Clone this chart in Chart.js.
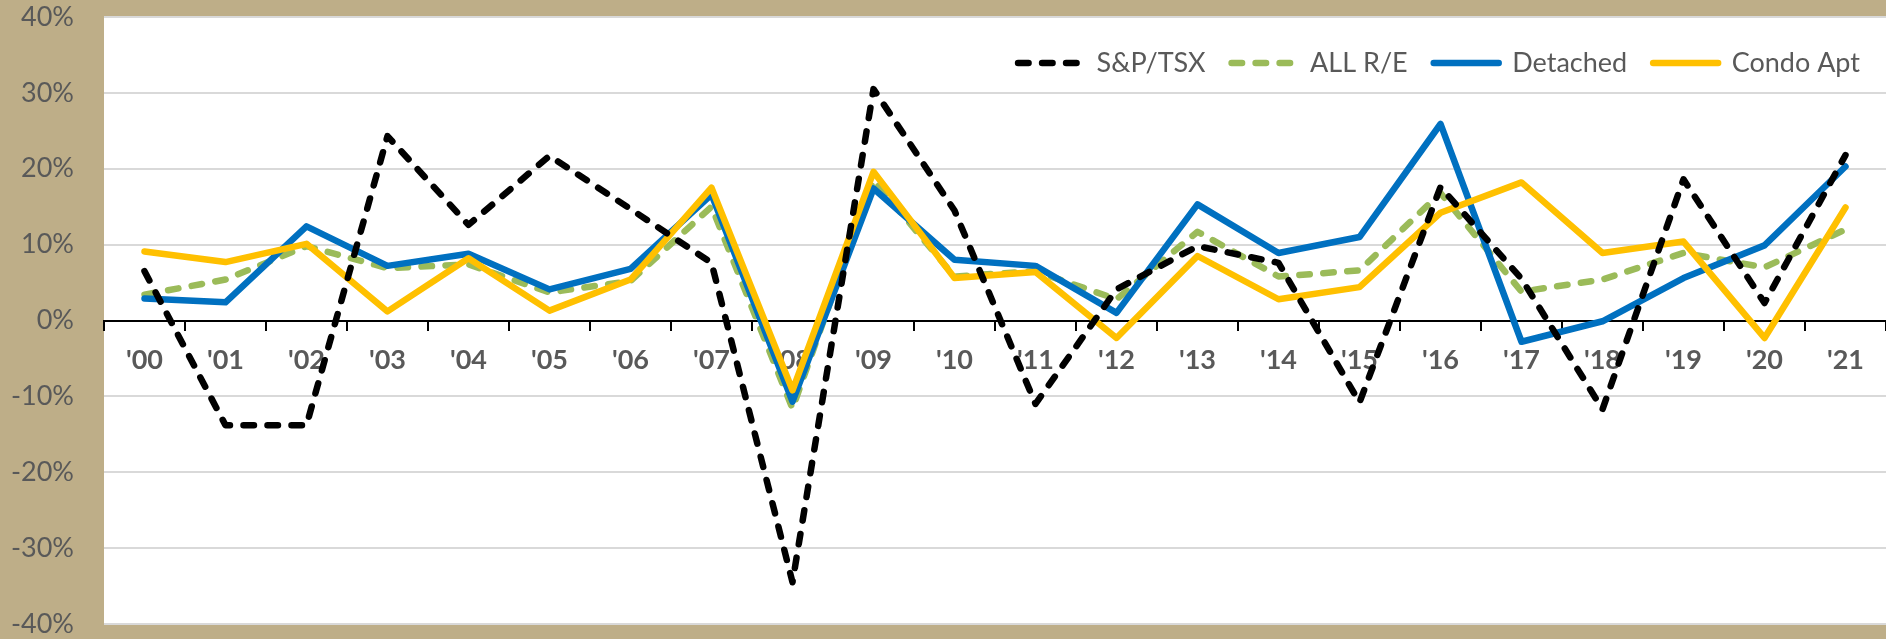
<!DOCTYPE html>
<html>
<head>
<meta charset="utf-8">
<title>S&amp;P/TSX vs real estate, annual change</title>
<script src="https://cdn.jsdelivr.net/npm/chart.js@4.4.1/dist/chart.umd.min.js"></script>
<style>
  html, body { margin: 0; padding: 0; background: #BEAE88; }
  canvas { display: block; }
</style>
</head>
<body>
<canvas id="grafico" width="1886" height="639"></canvas>
<script>
// Dados (variação anual, %)
const anos = ["'00", "'01", "'02", "'03", "'04", "'05", "'06", "'07", "'08", "'09", "'10",
              "'11", "'12", "'13", "'14", "'15", "'16", "'17", "'18", "'19", "'20", "'21"];

const tsx = [6.5, -13.8, -13.8, 24.3, 12.6, 21.7, 14.7, 7.6, -34.5, 30.5, 14.5,
             -11.0, 4.1, 9.8, 7.6, -10.8, 17.6, 5.5, -11.7, 18.6, 2.3, 21.8];
const todosRE = [3.4, 5.4, 9.8, 6.9, 7.4, 3.7, 5.2, 15.0, -11.6, 18.5, 5.8,
                 6.5, 2.8, 11.7, 5.8, 6.6, 16.8, 3.8, 5.4, 8.9, 7.0, 12.0];
const detached = [2.9, 2.4, 12.4, 7.2, 8.8, 4.1, 6.8, 16.6, -10.7, 17.4, 8.0,
                  7.2, 1.0, 15.3, 8.9, 11.0, 25.9, -2.8, -0.1, 5.6, 9.9, 20.3];
const condo = [9.1, 7.7, 10.1, 1.2, 8.2, 1.3, 5.4, 17.5, -9.2, 19.6, 5.6,
               6.4, -2.3, 8.5, 2.8, 4.4, 14.2, 18.2, 8.9, 10.4, -2.3, 14.9];

const yMin = -40;
const yMax = 40;
const yPasso = 10;

const BEGE = '#BEAE88';
const CINZA_TEXTO = '#595959';
const FONTE = 'Lato';
const ESPESSURA = 6.5;
const TRACO = [10.5, 13.5];

// Fundo bege com área do gráfico branca
const fundoPlugin = {
    id: 'fundo',
    afterLayout(chart) {
        // a legenda ocupa quase nada no layout, mas precisa de área para não ser cortada
        if (chart.legend) chart.legend.bottom = chart.height;
    },
    beforeDraw(chart) {
        const { ctx, chartArea } = chart;
        ctx.save();
        ctx.fillStyle = BEGE;
        ctx.fillRect(0, 0, chart.width, chart.height);
        ctx.fillStyle = '#ffffff';
        ctx.fillRect(chartArea.left, chartArea.top, chartArea.right - chartArea.left, chartArea.bottom - chartArea.top);
        ctx.restore();
    }
};

function serie(label, data, cor, tracejado, ordem) {
    return {
        label: label,
        data: data,
        borderColor: cor,
        backgroundColor: cor,
        borderWidth: ESPESSURA,
        borderDash: tracejado ? TRACO : [],
        borderCapStyle: 'round',
        borderJoinStyle: 'round',
        pointRadius: 0,
        pointHoverRadius: 0,
        tension: 0,
        fill: false,
        order: ordem
    };
}

// Itens da legenda com o mesmo tracejado das linhas
function gerarLegenda(chart) {
    const itens = Chart.defaults.plugins.legend.labels.generateLabels(chart);
    itens.forEach(function (item) {
        const ds = chart.data.datasets[item.datasetIndex];
        item.lineDash = ds.borderDash;
        item.lineCap = 'round';
        item.lineWidth = ESPESSURA;
        item.strokeStyle = ds.borderColor;
    });
    return itens;
}

const ctx = document.getElementById('grafico').getContext('2d');
const grafico = new Chart(ctx, {
    type: 'line',
    data: {
        labels: anos,
        datasets: [
            serie('S&P/TSX', tsx, '#000000', true, 1),
            serie('ALL R/E', todosRE, '#9BBB59', true, 4),
            serie('Detached', detached, '#0070C0', false, 3),
            serie('Condo Apt', condo, '#FFC000', false, 2)
        ]
    },
    options: {
        responsive: false,
        animation: false,
        devicePixelRatio: 1,
        layout: {
            padding: { top: 17, bottom: 15, left: 0, right: 0 }
        },
        plugins: {
            tooltip: { enabled: false },
            legend: {
                // legenda sobreposta à área do gráfico (altura mínima no layout)
                position: 'top',
                align: 'end',
                maxHeight: 0.001,
                title: {
                    display: true,
                    text: '',
                    font: { size: 1 },
                    padding: { top: 5.3, bottom: 0 }
                },
                labels: {
                    usePointStyle: true,
                    pointStyle: 'line',
                    pointStyleWidth: 65,
                    padding: 26,
                    color: CINZA_TEXTO,
                    font: { family: FONTE, size: 27 },
                    generateLabels: gerarLegenda,
                    sort: (a, b) => a.datasetIndex - b.datasetIndex
                }
            }
        },
        scales: {
            x: {
                type: 'category',
                position: { y: 0 },
                offset: true,
                grid: {
                    offset: true,
                    drawOnChartArea: false,
                    drawTicks: true,
                    tickLength: 9,
                    color: '#000000',
                    lineWidth: 2
                },
                border: { display: true, color: '#000000', width: 2 },
                ticks: {
                    autoSkip: false,
                    maxRotation: 0,
                    padding: 15,
                    color: CINZA_TEXTO,
                    font: { family: FONTE, size: 27, weight: 'bold' }
                }
            },
            y: {
                min: yMin,
                max: yMax,
                afterFit(scale) { scale.width = 104; },
                grid: {
                    drawTicks: true,
                    tickLength: 30,
                    tickColor: 'rgba(0,0,0,0)',
                    lineWidth: 2,
                    color: (c) => (c.tick && c.tick.value === 0) ? 'rgba(0,0,0,0)' : '#D9D9D9'
                },
                border: { display: false },
                ticks: {
                    stepSize: yPasso,
                    padding: 0,
                    color: CINZA_TEXTO,
                    font: { family: FONTE, size: 27, lineHeight: 1 },
                    callback: (v) => v + '%'
                }
            }
        }
    },
    plugins: [fundoPlugin]
});
</script>
</body>
</html>
